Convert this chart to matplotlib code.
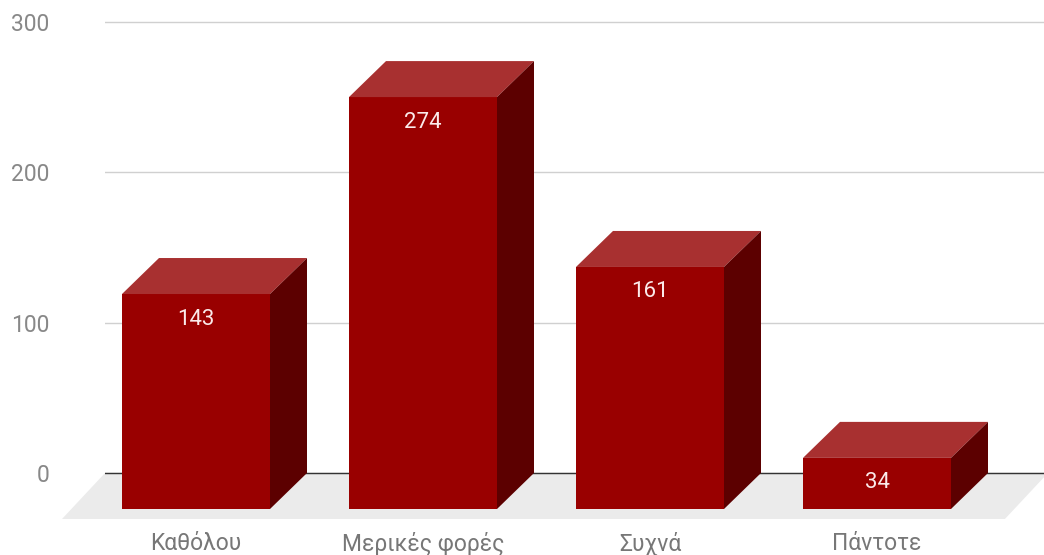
import numpy as np
import matplotlib
matplotlib.use("Agg")
import matplotlib.pyplot as plt
from matplotlib.patches import Polygon, Rectangle

plt.rcParams['font.family'] = ['Roboto', 'DejaVu Sans']

categories = ["Καθόλου", "Μερικές φορές", "Συχνά", "Πάντοτε"]
values = [143, 274, 161, 34]
yticks = [0, 100, 200, 300]

front_col = "#990000"
top_col = "#a83030"
side_col = "#5c0000"

W, H = 1044, 555
fig = plt.figure(figsize=(W / 100, H / 100), dpi=100)
ax = fig.add_axes([105 / W, (H - 525) / H, (W - 105) / W, 525 / H])

px_per_unit = 451 / 300.0
cat_px = 227.0
ax.set_ylim(-(525 - 473) / px_per_unit, 473 / px_per_unit)
ax.set_xlim((105 - 196) / cat_px, (1044 - 196) / cat_px)

width = 148 / cat_px
dx = 37 / cat_px
dy = 36 / px_per_unit

# floor
fl_dx = 43 / cat_px
fl_dy = 46 / px_per_unit
x0 = ax.get_xlim()[0]
x1 = len(values) - 1 + 0.753
floor = Polygon([(x0, 0), (x1, 0), (x1 - fl_dx, -fl_dy), (x0 - fl_dx, -fl_dy)],
                closed=True, facecolor="#ebebeb", edgecolor="none", zorder=0.5, clip_on=False)
ax.add_patch(floor)

ax.set_yticks(yticks)
ax.yaxis.grid(True, color="#d0d0d0", linewidth=1)
ax.set_axisbelow(True)
ax.axhline(0, color="#333333", linewidth=1, zorder=2)

for i, v in enumerate(values):
    l = i - width / 2
    r = i + width / 2
    ax.add_patch(Rectangle((l, -dy), width, v, facecolor=front_col, edgecolor="none", zorder=3))
    ax.add_patch(Polygon([(l, v - dy), (r, v - dy), (r + dx, v), (l + dx, v)],
                         closed=True, facecolor=top_col, edgecolor="none", zorder=3))
    ax.add_patch(Polygon([(r, -dy), (r + dx, 0), (r + dx, v), (r, v - dy)],
                         closed=True, facecolor=side_col, edgecolor="none", zorder=3))
    ax.text(i, v - dy - 25 / px_per_unit, str(v), ha="center", va="center",
            color="#fbeaea", fontsize=16, zorder=4)

ax.set_xticks(range(len(categories)))
ax.set_xticklabels(categories, fontsize=16.5, color="#777777")
ax.set_yticklabels([str(t) for t in yticks], fontsize=16.5, color="#888888")
ax.tick_params(axis="x", length=0, pad=5)
ax.tick_params(axis="y", length=0, pad=40)
for s in ax.spines.values():
    s.set_visible(False)

fig.savefig("out.png", dpi=100, facecolor="white")
